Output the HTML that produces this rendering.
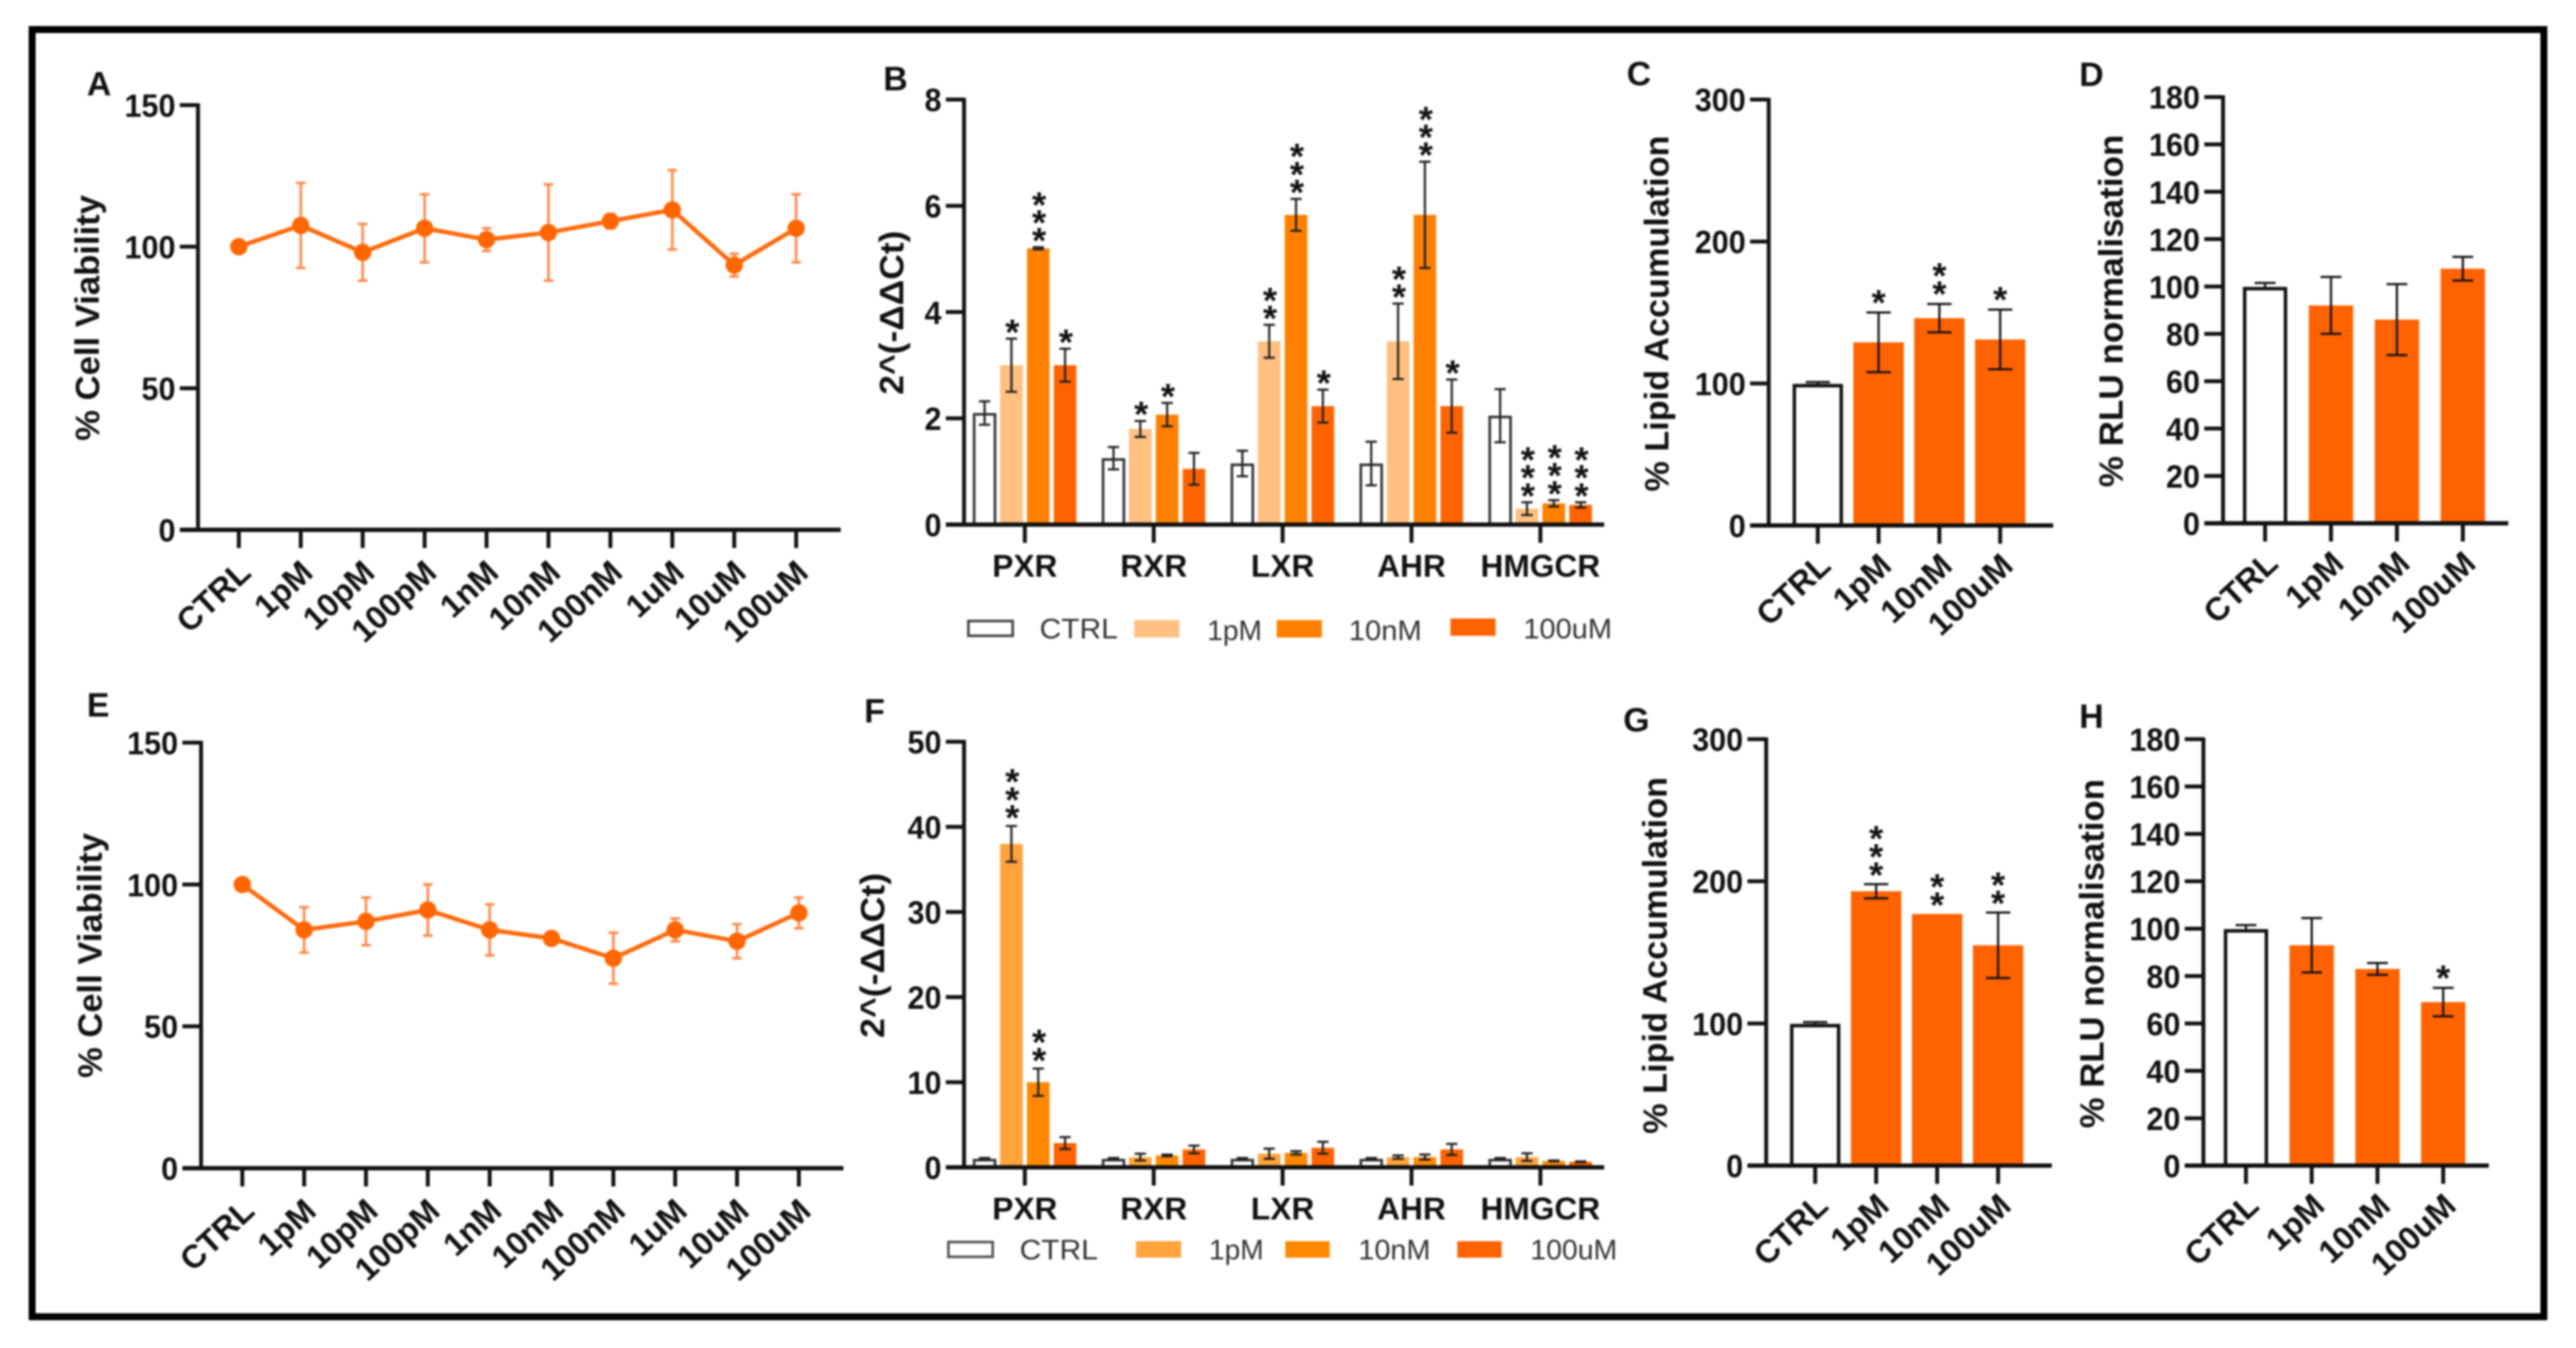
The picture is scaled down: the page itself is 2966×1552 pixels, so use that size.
<!DOCTYPE html>
<html lang="en">
<head>
<meta charset="utf-8">
<title>Cell viability, gene expression, lipid accumulation and RLU panels</title>
<style>
html,body{margin:0;padding:0;background:#fff;}
body{width:2966px;height:1552px;overflow:hidden;}
svg{display:block;filter:blur(1px);}
text{font-family:"Liberation Sans",sans-serif;fill:#111;}
.title{font-size:39px;font-weight:bold;}
.letter{font-size:39px;font-weight:bold;}
.legend{font-size:32px;fill:#333;}
</style>
</head>
<body>
<svg id="figure" xmlns="http://www.w3.org/2000/svg" width="2966" height="1552" viewBox="0 0 2966 1552">
  <rect x="0" y="0" width="2966" height="1552" fill="#fff"/>
  <rect x="37" y="34" width="2892" height="1482" fill="none" stroke="#000" stroke-width="8"/>

  <g id="panel-a">
    <text class="letter" x="100" y="110">A</text>
    <text class="title" transform="translate(114 366) rotate(-90)" text-anchor="middle" textLength="283" lengthAdjust="spacingAndGlyphs">% Cell Viability</text>
  </g>
  <g id="panel-b">
    <text class="letter" x="1017" y="104">B</text>
    <text class="title" transform="translate(1040 360) rotate(-90)" text-anchor="middle" textLength="189" lengthAdjust="spacingAndGlyphs">2^(-ΔΔCt)</text>
    <g>
      <rect x="1115" y="715" width="51" height="17" fill="#fff" stroke="#444" stroke-width="3"/>
      <text class="legend" x="1197" y="735" textLength="90" lengthAdjust="spacingAndGlyphs">CTRL</text>
      <rect x="1306" y="714" width="52" height="20" fill="#FFC080"/>
      <text class="legend" x="1390" y="737" textLength="63" lengthAdjust="spacingAndGlyphs">1pM</text>
      <rect x="1470" y="714" width="52" height="20" fill="#FF8000"/>
      <text class="legend" x="1553" y="737" textLength="84" lengthAdjust="spacingAndGlyphs">10nM</text>
      <rect x="1670" y="712" width="52" height="20" fill="#FF6200"/>
      <text class="legend" x="1754" y="735" textLength="102" lengthAdjust="spacingAndGlyphs">100uM</text>
    </g>
  </g>
  <g id="panel-c">
    <text class="letter" x="1873" y="98">C</text>
    <text class="title" transform="translate(1921 361) rotate(-90)" text-anchor="middle" textLength="410" lengthAdjust="spacingAndGlyphs">% Lipid Accumulation</text>
  </g>
  <g id="panel-d">
    <text class="letter" x="2394" y="99">D</text>
    <text class="title" transform="translate(2444 358) rotate(-90)" text-anchor="middle" textLength="406" lengthAdjust="spacingAndGlyphs">% RLU normalisation</text>
  </g>
  <g id="panel-e">
    <text class="letter" x="100" y="825">E</text>
    <text class="title" transform="translate(117 1100) rotate(-90)" text-anchor="middle" textLength="282" lengthAdjust="spacingAndGlyphs">% Cell Viability</text>
  </g>
  <g id="panel-f">
    <text class="letter" x="995" y="832">F</text>
    <text class="title" transform="translate(1018 1100) rotate(-90)" text-anchor="middle" textLength="190" lengthAdjust="spacingAndGlyphs">2^(-ΔΔCt)</text>
    <g>
      <rect x="1092" y="1430" width="51" height="17" fill="#fff" stroke="#555" stroke-width="3"/>
      <text class="legend" x="1174" y="1450" textLength="90" lengthAdjust="spacingAndGlyphs">CTRL</text>
      <rect x="1308" y="1429" width="52" height="19" fill="#FFA33D"/>
      <text class="legend" x="1392" y="1450" textLength="63" lengthAdjust="spacingAndGlyphs">1pM</text>
      <rect x="1480" y="1429" width="51" height="19" fill="#FF8800"/>
      <text class="legend" x="1564" y="1450" textLength="83" lengthAdjust="spacingAndGlyphs">10nM</text>
      <rect x="1678" y="1429" width="51" height="19" fill="#FF6200"/>
      <text class="legend" x="1762" y="1450" textLength="100" lengthAdjust="spacingAndGlyphs">100uM</text>
    </g>
  </g>
  <g id="panel-g">
    <text class="letter" x="1869" y="842">G</text>
    <text class="title" transform="translate(1919 1100) rotate(-90)" text-anchor="middle" textLength="411" lengthAdjust="spacingAndGlyphs">% Lipid Accumulation</text>
  </g>
  <g id="panel-h">
    <text class="letter" x="2394" y="838">H</text>
    <text class="title" transform="translate(2422 1098) rotate(-90)" text-anchor="middle" textLength="402" lengthAdjust="spacingAndGlyphs">% RLU normalisation</text>
  </g>
</svg>
<script>
// ---------- Data ----------
const doseCategories = ['CTRL','1pM','10pM','100pM','1nM','10nM','100nM','1uM','10uM','100uM'];
const barCategories = ['CTRL','1pM','10nM','100uM'];
const geneCategories = ['PXR','RXR','LXR','AHR','HMGCR'];

const viabilityTicks = [0,50,100,150];
const foldTicksB = [0,2,4,6,8];
const foldTicksF = [0,10,20,30,40,50];
const lipidTicks = [0,100,200,300];
const rluTicks = [0,20,40,60,80,100,120,140,160,180];

const panelAValues = [100,107.5,98,106.5,102.5,105,109,113,93.5,106.5];
const panelAErrors = [0,15,10,12,4,17,2.5,14,4,12];
const panelEValues = [100,84,87,91,84,81,74,84,80,90];
const panelEErrors = [0,8,8.4,9,9,1.5,9,4,6,5.4];

const panelBCtrl = [2.1,1.25,1.15,1.15,2.05];
const panelB1pM = [3.0,1.8,3.45,3.45,0.3];
const panelB10nM = [5.2,2.07,5.83,5.83,0.4];
const panelB100uM = [3.0,1.05,2.23,2.23,0.37];
const panelBCtrlErr = [0.22,0.21,0.24,0.41,0.5];
const panelB1pMErr = [0.5,0.15,0.31,0.71,0.12];
const panelB10nMErr = [0.02,0.22,0.3,1.0,0.06];
const panelB100uMErr = [0.31,0.3,0.31,0.5,0.05];
const panelBCtrlStars = [0,0,0,0,0];
const panelB1pMStars = [1,1,2,2,3];
const panelB10nMStars = [3,1,3,3,3];
const panelB100uMStars = [1,0,1,1,3];

const panelFCtrl = [1,1,1,1,1];
const panelF1pM = [38,1.2,1.6,1.2,1.2];
const panelF10nM = [10,1.4,1.7,1.2,0.75];
const panelF100uM = [2.85,2.1,2.3,2.1,0.65];
const panelFCtrlErr = [0.1,0.1,0.1,0.1,0.1];
const panelF1pMErr = [2.1,0.4,0.6,0.2,0.45];
const panelF10nMErr = [1.6,0.1,0.2,0.3,0.05];
const panelF100uMErr = [0.7,0.45,0.7,0.65,0.05];
const panelFCtrlStars = [0,0,0,0,0];
const panelF1pMStars = [3,0,0,0,0];
const panelF10nMStars = [2,0,0,0,0];
const panelF100uMStars = [0,0,0,0,0];

const panelCValues = [100,129,146,131];
const panelCErrors = [1,21,10,21];
const panelCStars = [0,1,2,1];
const panelDValues = [100,92,86,107.5];
const panelDErrors = [1.5,12,15,5];
const panelDStars = [0,0,0,0];
const panelGValues = [100,193,177,155];
const panelGErrors = [1,5,0,23];
const panelGStars = [0,3,2,2];
const panelHValues = [100,93,83,69];
const panelHErrors = [1.5,11.5,2.5,6];
const panelHStars = [0,0,0,1];

// ---------- Drawing helpers ----------
const SVG_NS = 'http://www.w3.org/2000/svg';
function mk(tag, parent, attrs, name, txt) {
  const el = document.createElementNS(SVG_NS, tag);
  for (const k in attrs) el.setAttribute(k, attrs[k]);
  
  
  if (txt !== undefined) el.textContent = txt;
  parent.appendChild(el);
  return el;
}
const INK = '#111';
function yScaleOf(f) { return v => f.y0 - (v / f.max) * (f.y0 - f.yTop); }

function drawAxes(g, f, ticks, key) {
  const y = yScaleOf(f);
  mk('line', g, {x1:f.axisX, x2:f.axisX, y1:f.yTop-2, y2:f.y0, stroke:INK, 'stroke-width':4.5}, 'y-axis-line-'+key);
  mk('line', g, {x1:f.left, x2:f.right, y1:f.y0, y2:f.y0, stroke:INK, 'stroke-width':5}, 'x-axis-line-'+key);
  ticks.forEach(t => {
    mk('line', g, {x1:f.left, x2:f.axisX, y1:y(t), y2:y(t), stroke:INK, 'stroke-width':4.5}, 'y-tick-'+key+'-'+t);
    mk('text', g, {transform:'translate('+(f.left-5)+' '+(y(t)+13.5)+') scale(0.95 1)', 'text-anchor':'end', 'font-size':37, 'font-weight':'bold'}, 'y-tick-label-'+key+'-'+t, t);
  });
}
function drawXTicks(g, f, n, key) {
  for (let i = 0; i < n; i++) {
    const x = f.first + i * f.step;
    mk('line', g, {x1:x, x2:x, y1:f.y0, y2:f.y0+21, stroke:INK, 'stroke-width':4.5}, 'x-tick-'+key+'-'+i);
  }
}
function drawRotatedLabels(g, f, labels, key) {
  labels.forEach((c, i) => {
    const x = f.first + i * f.step + f.labelDx;
    const y = f.y0 + f.labelDy;
    mk('text', g, {transform:'translate('+x+' '+y+') rotate(-43)', 'text-anchor':'end', 'font-size':37.5, 'font-weight':'bold'}, 'x-tick-label-'+key+'-'+c, c);
  });
}
function drawErr(g, x, yHi, yLo, hw, stroke, w, name) {
  mk('line', g, {x1:x, x2:x, y1:yHi, y2:yLo, stroke:stroke, 'stroke-width':w}, name+'-stem');
  mk('line', g, {x1:x-hw, x2:x+hw, y1:yHi, y2:yHi, stroke:stroke, 'stroke-width':w}, name+'-cap-top');
  mk('line', g, {x1:x-hw, x2:x+hw, y1:yLo, y2:yLo, stroke:stroke, 'stroke-width':w}, name+'-cap-bottom');
}
function drawStars(g, x, yTopOfErr, count, gap, spacing, name) {
  for (let s = 0; s < count; s++) {
    const cy = yTopOfErr - gap - s * spacing;
    mk('text', g, {x:x, y:cy+19, 'text-anchor':'middle', 'font-size':42, 'font-weight':'bold'}, name+'-star-'+s, '*');
  }
}
function drawLinePanel(id, key, f, values, errors, ticks) {
  const g = document.getElementById(id);
  const y = yScaleOf(f);
  const px = i => f.first + i * f.step;
  values.forEach((v, i) => {
    if (errors[i] > 0) drawErr(g, px(i), y(v+errors[i]), y(v-errors[i]), 5.5, '#FF8A4A', 3, 'error-bar-'+key+'-'+doseCategories[i]);
  });
  const pts = values.map((v, i) => px(i) + ',' + y(v)).join(' ');
  mk('polyline', g, {points:pts, fill:'none', stroke:'#FF6A0D', 'stroke-width':5, 'stroke-linejoin':'round'}, 'viability-line-'+key);
  values.forEach((v, i) => {
    mk('circle', g, {cx:px(i), cy:y(v), r:10, fill:'#FF6600'}, 'point-'+key+'-'+doseCategories[i]);
  });
  drawAxes(g, f, ticks, key);
  drawXTicks(g, f, values.length, key);
  drawRotatedLabels(g, f, doseCategories, key);
}
function drawSingleBars(id, key, f, values, errors, stars, ticks) {
  const g = document.getElementById(id);
  const y = yScaleOf(f);
  values.forEach((v, i) => {
    const x = f.first + i * f.step;
    const name = 'bar-'+key+'-'+barCategories[i];
    if (i === 0) {
      const inset = 2;
      if (errors[i] > 0) drawErr(g, x, y(v+errors[i]), y(v-errors[i]), f.capHw, INK, 2.5, 'error-bar-'+key+'-'+barCategories[i]);
      mk('rect', g, {x:x-f.barW/2+inset, y:y(v)+2.5, width:f.barW-2*inset, height:f.y0-y(v)-2.5, fill:'#fff', stroke:INK, 'stroke-width':4}, name);
    } else {
      mk('rect', g, {x:x-f.barW/2, y:y(v), width:f.barW, height:f.y0-y(v), fill:'#FF6200'}, name);
      if (errors[i] > 0) drawErr(g, x, y(v+errors[i]), y(v-errors[i]), f.capHw, INK, 2.5, 'error-bar-'+key+'-'+barCategories[i]);
    }
    drawStars(g, x, y(v+errors[i]), stars[i], f.starGap, 21, 'significance-'+key+'-'+barCategories[i]);
  });
  drawAxes(g, f, ticks, key);
  drawXTicks(g, f, values.length, key);
  drawRotatedLabels(g, f, barCategories, key);
}
function drawGroupedBars(id, key, f, seriesValues, seriesErrors, seriesStars, fills, ticks) {
  const g = document.getElementById(id);
  const y = yScaleOf(f);
  const gx = (i, s) => f.first + i * f.step + (s - 1.5) * f.spacing;
  seriesValues.forEach((vals, s) => {
    vals.forEach((v, i) => {
      const x = gx(i, s);
      const name = 'bar-'+key+'-'+geneCategories[i]+'-'+barCategories[s];
      if (s === 0) {
        mk('rect', g, {x:x-f.barW/2+1, y:y(v)+1.5, width:f.barW-2, height:f.y0-y(v)-1.5, fill:'#fff', stroke:'#333', 'stroke-width':3}, name);
      } else {
        mk('rect', g, {x:x-f.barW/2, y:y(v), width:f.barW, height:f.y0-y(v), fill:fills[s]}, name);
      }
      const e = seriesErrors[s][i];
      drawErr(g, x, y(v+e), y(Math.max(v-e,0)), f.capHw, '#222', 2.5, 'error-bar-'+key+'-'+geneCategories[i]+'-'+barCategories[s]);
      drawStars(g, x+1, y(v+e), seriesStars[s][i], f.starGap, 20.7, 'significance-'+key+'-'+geneCategories[i]+'-'+barCategories[s]);
    });
  });
  drawAxes(g, f, ticks, key);
  drawXTicks(g, f, geneCategories.length, key);
  geneCategories.forEach((c, i) => {
    mk('text', g, {x:f.first+i*f.step, y:f.y0+60, 'text-anchor':'middle', 'font-size':36.5, 'font-weight':'bold'}, 'x-tick-label-'+key+'-'+c, c);
  });
}

// ---------- Panels ----------
drawLinePanel('panel-a','a',{axisX:228,left:207,right:968,yTop:121,y0:610,max:150,first:275,step:71.3,labelDx:16,labelDy:52},panelAValues,panelAErrors,viabilityTicks);
drawLinePanel('panel-e','e',{axisX:231.5,left:210,right:971,yTop:855,y0:1345,max:150,first:279,step:71.2,labelDx:16,labelDy:52},panelEValues,panelEErrors,viabilityTicks);
drawGroupedBars('panel-b','b',{axisX:1110,left:1089,right:1847,yTop:114.6,y0:604,max:8,first:1180,step:148.4,spacing:30.9,barW:26,capHw:6.5,starGap:12},
  [panelBCtrl,panelB1pM,panelB10nM,panelB100uM],[panelBCtrlErr,panelB1pMErr,panelB10nMErr,panelB100uMErr],[panelBCtrlStars,panelB1pMStars,panelB10nMStars,panelB100uMStars],
  ['#fff','#FFC080','#FF8000','#FF6200'],foldTicksB);
drawGroupedBars('panel-f','f',{axisX:1110,left:1089,right:1847,yTop:854,y0:1344,max:50,first:1180,step:148.4,spacing:30.9,barW:26,capHw:6.5,starGap:14},
  [panelFCtrl,panelF1pM,panelF10nM,panelF100uM],[panelFCtrlErr,panelF1pMErr,panelF10nMErr,panelF100uMErr],[panelFCtrlStars,panelF1pMStars,panelF10nMStars,panelF100uMStars],
  ['#fff','#FFA33D','#FF8800','#FF6200'],foldTicksF);
drawSingleBars('panel-c','c',{axisX:2036.5,left:2015,right:2364,yTop:114.6,y0:605,max:300,first:2093,step:70,barW:58,capHw:14,starGap:16,labelDx:17,labelDy:49},panelCValues,panelCErrors,panelCStars,lipidTicks);
drawSingleBars('panel-d','d',{axisX:2559.6,left:2538,right:2888,yTop:111.7,y0:602.5,max:180,first:2608,step:75.9,barW:51,capHw:12,starGap:16,labelDx:17,labelDy:49},panelDValues,panelDErrors,panelDStars,rluTicks);
drawSingleBars('panel-g','g',{axisX:2033.6,left:2012,right:2362.5,yTop:851,y0:1342,max:300,first:2090,step:70.2,barW:58,capHw:14,starGap:15,labelDx:17,labelDy:49},panelGValues,panelGErrors,panelGStars,lipidTicks);
drawSingleBars('panel-h','h',{axisX:2537,left:2515.5,right:2865.6,yTop:851,y0:1342,max:180,first:2586,step:75.7,barW:51,capHw:12,starGap:16,labelDx:17,labelDy:49},panelHValues,panelHErrors,panelHStars,rluTicks);
</script>
</body>
</html>
